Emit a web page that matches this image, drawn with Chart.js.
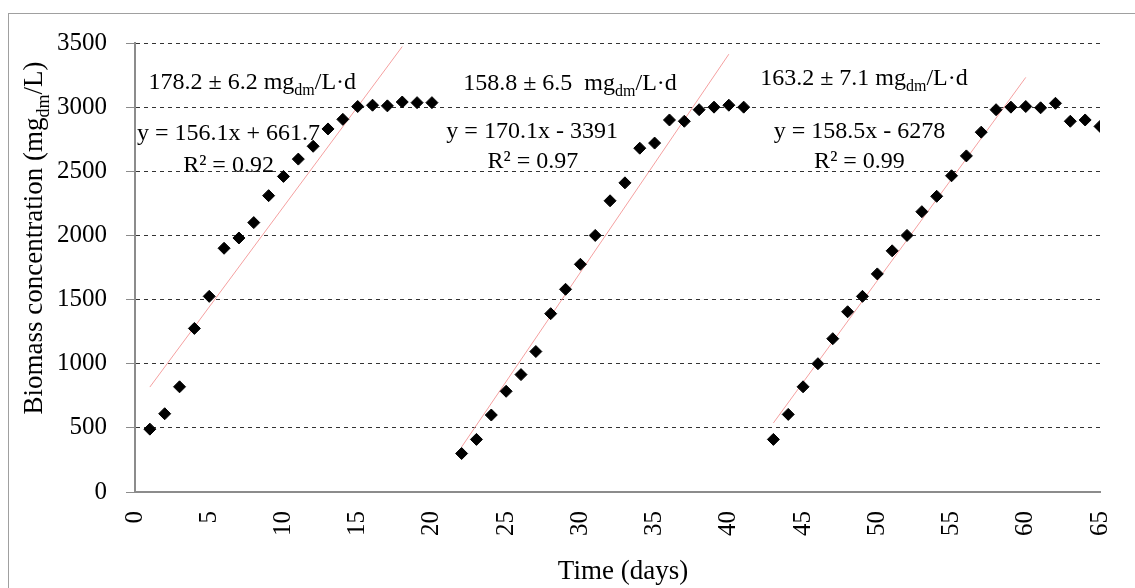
<!DOCTYPE html>
<html>
<head>
<meta charset="utf-8">
<script src="https://cdn.jsdelivr.net/npm/chart.js@4"></script>
<style>
html, body { margin: 0; padding: 0; background: #fff; overflow: hidden; }
#wrap { position: relative; width: 1135px; height: 588px; }
#frame { position: absolute; left: 8px; top: 13px; width: 1140px; height: 600px; border: 1px solid #a0a0a0; box-sizing: border-box; }
#chart { position: absolute; left: 0; top: 0; }
</style>
</head>
<body>
<div id="wrap">
  <div id="frame"></div>
  <canvas id="chart" width="1135" height="588"></canvas>
</div>
<script>
// batch 1
const days1 = [1, 2, 3, 4, 5, 6, 7, 8, 9, 10, 11, 12, 13, 14, 15, 16, 17, 18, 19, 20];
const biomass1 = [490, 610, 820, 1275, 1525, 1900, 1980, 2100, 2310, 2460, 2595, 2695, 2830, 2905, 3005, 3015, 3010, 3040, 3035, 3035];
// batch 2
const days2 = [22, 23, 24, 25, 26, 27, 28, 29, 30, 31, 32, 33, 34, 35, 36, 37, 38, 39, 40, 41];
const biomass2 = [300, 410, 600, 785, 915, 1095, 1390, 1580, 1775, 2000, 2270, 2410, 2680, 2720, 2900, 2890, 2980, 3000, 3015, 3000];
// batch 3
const days3 = [43, 44, 45, 46, 47, 48, 49, 50, 51, 52, 53, 54, 55, 56, 57, 58, 59, 60, 61, 62, 63, 64, 65];
const biomass3 = [410, 605, 820, 1000, 1195, 1405, 1525, 1700, 1880, 2000, 2185, 2305, 2465, 2620, 2805, 2980, 3000, 3005, 2995, 3030, 2890, 2900, 2850];

// linear trend lines (end points)
const trendDays1 = [1, 18];
const trendVals1 = [818, 3472];
const trendDays2 = [22, 40];
const trendVals2 = [351, 3413];
const trendDays3 = [43, 60];
const trendVals3 = [538, 3232];

const xTicks = [0, 65, 5];
const yTicks = [0, 3500, 500];

const FONT = '"Liberation Serif", "Times New Roman", serif';

function pts(xs, ys) {
    return xs.map((x, i) => ({ x: x, y: ys[i] }));
}

// text pieces, "sub" ones are drawn as subscript
const notes = [
    { day: 7.9, val: 3204, parts: [{ t: "178.2 ± 6.2 mg" }, { t: "dm", sub: true }, { t: "/L·d" }] },
    { day: 6.3, val: 2803, parts: [{ t: "y = 156.1x + 661.7" }] },
    { day: 6.3, val: 2560, parts: [{ t: "R² = 0.92" }] },
    { day: 29.3, val: 3198, parts: [{ t: "158.8 ± 6.5  mg" }, { t: "dm", sub: true }, { t: "/L·d" }] },
    { day: 26.75, val: 2822, parts: [{ t: "y = 170.1x - 3391" }] },
    { day: 26.8, val: 2588, parts: [{ t: "R² = 0.97" }] },
    { day: 49.1, val: 3237, parts: [{ t: "163.2 ± 7.1 mg" }, { t: "dm", sub: true }, { t: "/L·d" }] },
    { day: 48.8, val: 2822, parts: [{ t: "y = 158.5x - 6278" }] },
    { day: 48.8, val: 2588, parts: [{ t: "R² = 0.99" }] },
];

function drawRich(ctx, parts, cx, cy, size) {
    const mainFont = size + "px " + FONT;
    const subFont = Math.round(size * 0.66) + "px " + FONT;
    let total = 0;
    parts.forEach((p) => {
        ctx.font = p.sub ? subFont : mainFont;
        p.w = ctx.measureText(p.t).width;
        total += p.w;
    });
    let x = cx - total / 2;
    const base = cy + size * 0.33;
    ctx.textAlign = "left";
    ctx.textBaseline = "alphabetic";
    ctx.fillStyle = "#000";
    parts.forEach((p) => {
        ctx.font = p.sub ? subFont : mainFont;
        ctx.fillText(p.t, x, base + (p.sub ? size * 0.27 : 0));
        x += p.w;
    });
}

const textPlugin = {
    id: "texts",
    afterDatasetsDraw(chart) {
        const ctx = chart.ctx;
        const xs = chart.scales.x;
        const ys = chart.scales.y;
        ctx.save();
        notes.forEach((n) => {
            drawRich(ctx, n.parts, xs.getPixelForValue(n.day), ys.getPixelForValue(n.val), 24);
        });
        // axis titles
        drawRich(ctx, [{ t: "Time (days)" }], 623, 570, 27);
        ctx.translate(33, 238);
        ctx.rotate(-Math.PI / 2);
        drawRich(ctx, [{ t: "Biomass concentration (mg" }, { t: "dm", sub: true }, { t: "/L)" }], 0, 0, 27);
        ctx.restore();
    },
};

const pointStyle = {
    type: "scatter",
    pointStyle: "rectRot",
    pointRadius: 6,
    pointHoverRadius: 6,
    backgroundColor: "#000",
    borderColor: "#000",
    borderWidth: 1,
    order: 1,
};

const trendStyle = {
    type: "line",
    showLine: true,
    borderColor: "#f5a0a0",
    borderWidth: 1,
    pointRadius: 0,
    fill: false,
    order: 2,
};

new Chart(document.getElementById("chart"), {
    type: "scatter",
    data: {
        datasets: [
            { ...pointStyle, data: pts(days1, biomass1) },
            { ...pointStyle, data: pts(days2, biomass2) },
            { ...pointStyle, data: pts(days3, biomass3) },
            { ...trendStyle, data: pts(trendDays1, trendVals1) },
            { ...trendStyle, data: pts(trendDays2, trendVals2) },
            { ...trendStyle, data: pts(trendDays3, trendVals3) },
        ],
    },
    options: {
        responsive: false,
        animation: false,
        layout: { padding: { top: 43, right: 35, left: 0, bottom: 0 } },
        plugins: {
            legend: { display: false },
            tooltip: { enabled: false },
        },
        scales: {
            x: {
                type: "linear",
                min: xTicks[0],
                max: xTicks[1],
                afterFit(scale) {
                    scale.height = 96;
                    scale.paddingLeft = 0;
                    scale.paddingRight = 0;
                },
                ticks: {
                    stepSize: xTicks[2],
                    autoSkip: false,
                    minRotation: 90,
                    maxRotation: 90,
                    padding: 19,
                    color: "#000",
                    font: { family: FONT, size: 25 },
                },
                grid: { display: false, drawTicks: false },
                border: { display: true, color: "#8c8c8c", width: 2 },
            },
            y: {
                min: yTicks[0],
                max: yTicks[1],
                afterFit(scale) {
                    scale.width = 135;
                    scale.paddingTop = 0;
                    scale.paddingBottom = 0;
                },
                ticks: {
                    stepSize: yTicks[2],
                    padding: 19,
                    color: "#000",
                    font: { family: FONT, size: 25 },
                    callback: (v) => String(v),
                },
                grid: {
                    color: "#333333",
                    lineWidth: 1,
                    tickLength: 9,
                    tickColor: "#8c8c8c",
                    tickBorderDash: [],
                },
                border: { display: true, color: "#8c8c8c", width: 2, dash: [4, 4] },
            },
        },
    },
    plugins: [textPlugin],
});
</script>
</body>
</html>
